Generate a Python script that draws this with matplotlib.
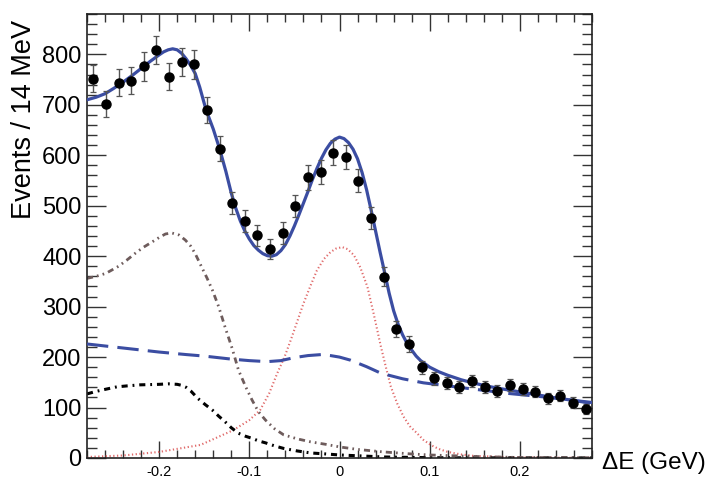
import numpy as np
import matplotlib
matplotlib.use("Agg")
import matplotlib.pyplot as plt
from matplotlib.ticker import MultipleLocator, FixedLocator

plt.rcParams['font.family'] = ['Liberation Sans', 'DejaVu Sans']

# ---- data ----
bin_centers = [-0.273, -0.259, -0.245, -0.231, -0.217, -0.203, -0.189, -0.175, -0.161, -0.147,
               -0.133, -0.119, -0.105, -0.091, -0.077, -0.063, -0.049, -0.035, -0.021, -0.007,
               0.007, 0.021, 0.035, 0.049, 0.063, 0.077, 0.091, 0.105, 0.119, 0.133,
               0.147, 0.161, 0.175, 0.189, 0.203, 0.217, 0.231, 0.245, 0.259, 0.273]
counts = [752, 701, 744, 748, 776, 808, 756, 785, 780, 690,
          613, 505, 470, 441, 414, 446, 499, 556, 567, 605,
          597, 550, 476, 359, 255, 226, 180, 158, 149, 140,
          153, 140, 133, 145, 137, 131, 118, 123, 110, 97]
count_errors = [27, 26, 27, 27, 28, 28, 27, 28, 28, 26,
                25, 22, 22, 21, 20, 21, 22, 24, 24, 25,
                24, 23, 22, 19, 16, 15, 13, 13, 12, 12,
                12, 12, 12, 12, 12, 11, 11, 11, 10, 10]

total_x = [-0.28, -0.27, -0.26, -0.25, -0.24, -0.23, -0.22, -0.21, -0.20, -0.195,
           -0.19, -0.185, -0.18, -0.175, -0.17, -0.165, -0.16, -0.155, -0.148, -0.14,
           -0.133, -0.126, -0.12, -0.115, -0.11, -0.105, -0.10, -0.095, -0.09, -0.085,
           -0.08, -0.075, -0.07, -0.065, -0.06, -0.055, -0.05, -0.045, -0.04, -0.035,
           -0.03, -0.025, -0.02, -0.015, -0.01, -0.005, 0.0, 0.005, 0.01, 0.015,
           0.02, 0.025, 0.03, 0.035, 0.04, 0.045, 0.05, 0.055, 0.06, 0.065,
           0.07, 0.075, 0.08, 0.085, 0.09, 0.1, 0.11, 0.12, 0.135, 0.15,
           0.165, 0.18, 0.20, 0.22, 0.24, 0.26, 0.28]
total_y = [710, 715, 722, 733, 745, 758, 772, 786, 799, 805,
           809, 811, 809, 802, 791, 778, 762, 735, 690, 652,
           613, 568, 525, 495, 470, 450, 434, 421, 412, 405,
           401, 400, 403, 411, 423, 440, 460, 482, 505, 528,
           552, 574, 594, 611, 624, 632, 636, 633, 625, 612,
           593, 566, 532, 492, 450, 408, 368, 327, 292, 265,
           244, 227, 214, 202, 193, 180, 171, 164, 155, 148,
           142, 137, 131, 125, 119, 114, 110]

comb_x = [-0.28, -0.25, -0.22, -0.20, -0.17, -0.15, -0.12, -0.10, -0.08, -0.065,
          -0.05, -0.035, -0.02, -0.01, 0.0, 0.012, 0.03, 0.046, 0.07, 0.093,
          0.12, 0.142, 0.165, 0.187, 0.21, 0.238, 0.26, 0.28]
comb_y = [226, 220, 214, 210, 205, 202, 196, 193, 191, 193,
          199, 203, 205, 203, 200, 194, 181, 168, 157, 149,
          143, 138, 133, 128, 124, 119, 114, 108]

peak_bkg_x = [-0.28, -0.27, -0.259, -0.245, -0.236, -0.227, -0.218, -0.208, -0.2, -0.193,
              -0.186, -0.178, -0.171, -0.165, -0.16, -0.153, -0.147, -0.141, -0.134, -0.127,
              -0.119, -0.112, -0.104, -0.097, -0.09, -0.082, -0.072, -0.062, -0.047, -0.032,
              -0.015, 0.0, 0.02, 0.049, 0.08, 0.1, 0.15, 0.2, 0.28]
peak_bkg_y = [356, 360, 366, 380, 392, 405, 417, 428, 437, 444,
              446, 442, 432, 420, 405, 379, 357, 333, 300, 260,
              217, 174, 141, 115, 92, 75, 58, 46, 38, 32,
              27, 22, 17, 12, 8, 6, 3, 1, 0.5]

other_bkg_x = [-0.28, -0.27, -0.26, -0.247, -0.235, -0.221, -0.20, -0.19, -0.18, -0.175,
               -0.17, -0.165, -0.157, -0.149, -0.141, -0.134, -0.127, -0.12, -0.112, -0.104,
               -0.097, -0.09, -0.082, -0.072, -0.062, -0.047, -0.032, -0.015, 0.0, 0.025,
               0.05, 0.1, 0.15, 0.28]
other_bkg_y = [127, 132, 136, 141, 143, 145, 146, 147, 146, 144,
               140, 133, 118, 106, 95, 83, 72, 60, 49, 43,
               39, 34, 30, 24, 19, 14, 10, 8, 6, 4,
               2, 0.6, 0.3, 0.1]

signal_x = [-0.28, -0.24, -0.20, -0.154, -0.118, -0.1, -0.088, -0.078, -0.069, -0.061,
            -0.054, -0.047, -0.04, -0.032, -0.025, -0.017, -0.01, -0.004, 0.003, 0.009,
            0.016, 0.023, 0.031, 0.038, 0.046, 0.052, 0.057, 0.064, 0.071, 0.078,
            0.086, 0.093, 0.101, 0.11, 0.12, 0.135, 0.15, 0.2, 0.28]
signal_y = [2, 5, 12, 26, 55, 75, 95, 128, 168, 200,
            234, 270, 306, 342, 372, 395, 408, 415, 418, 414,
            402, 378, 339, 285, 220, 176, 141, 108, 82, 63,
            49, 36, 26, 18, 12, 7, 4, 1, 0.3]

x_ticks = [-0.2, -0.1, 0.0, 0.1, 0.2]
x_tick_labels = ['-0.2', '-0.1', '0', '0.1', '0.2']
y_ticks = [0, 100, 200, 300, 400, 500, 600, 700, 800]

# ---- figure ----
W, H = 712, 478
fig = plt.figure(figsize=(W / 100, H / 100), dpi=100)
ax = fig.add_axes([87 / W, 20 / H, (592 - 87) / W, (458 - 14) / H])

blue = '#3b4da2'
ax.plot(signal_x, signal_y, color='#e06a6a', lw=1.5, linestyle=(0, (0.6, 1.2)),
        zorder=2)
ax.plot(other_bkg_x, other_bkg_y, color='black', lw=2.2,
        linestyle=(0, (2.0, 1.6, 0.6, 1.6)), zorder=2)
ax.plot(peak_bkg_x, peak_bkg_y, color='#6e5c5c', lw=2.0,
        linestyle=(0, (2.2, 1.5, 0.6, 1.5, 0.6, 1.5)), zorder=2)
ax.plot(comb_x, comb_y, color=blue, lw=2.2, linestyle=(0, (7.0, 3.0)), zorder=3)
ax.plot(total_x, total_y, color=blue, lw=2.3, zorder=4)

ax.errorbar(bin_centers, counts, yerr=count_errors, fmt='o', color='black',
            ms=6.5, ecolor='#555555', elinewidth=1.0, capsize=2.0, capthick=0.9,
            zorder=5)

ax.set_xlim(-0.28, 0.28)
ax.set_ylim(0, 880)

ax.xaxis.set_major_locator(FixedLocator(x_ticks))
ax.set_xticklabels(x_tick_labels)
ax.xaxis.set_minor_locator(MultipleLocator(0.02))
ax.yaxis.set_major_locator(FixedLocator(y_ticks))
ax.yaxis.set_minor_locator(MultipleLocator(20))

ax.tick_params(axis='both', which='both', direction='in', top=True, right=True,
               color='#333333', width=1.0)
ax.tick_params(axis='y', which='major', length=14, labelsize=17, pad=4)
ax.tick_params(axis='y', which='minor', length=7)
ax.tick_params(axis='x', which='major', length=12, labelsize=10.5, pad=5)
ax.tick_params(axis='x', which='minor', length=6)
for s in ax.spines.values():
    s.set_linewidth(1.2)
    s.set_color('#222222')

fig.text(24 / W, 1 - 20 / H, 'Events / 14 MeV', rotation=90, ha='center', va='top',
         fontsize=19.5)
fig.text(602 / W, 1 - 463 / H, '\u0394E (GeV)', ha='left', va='center', fontsize=17.5)

fig.savefig('out.png', dpi=100)
